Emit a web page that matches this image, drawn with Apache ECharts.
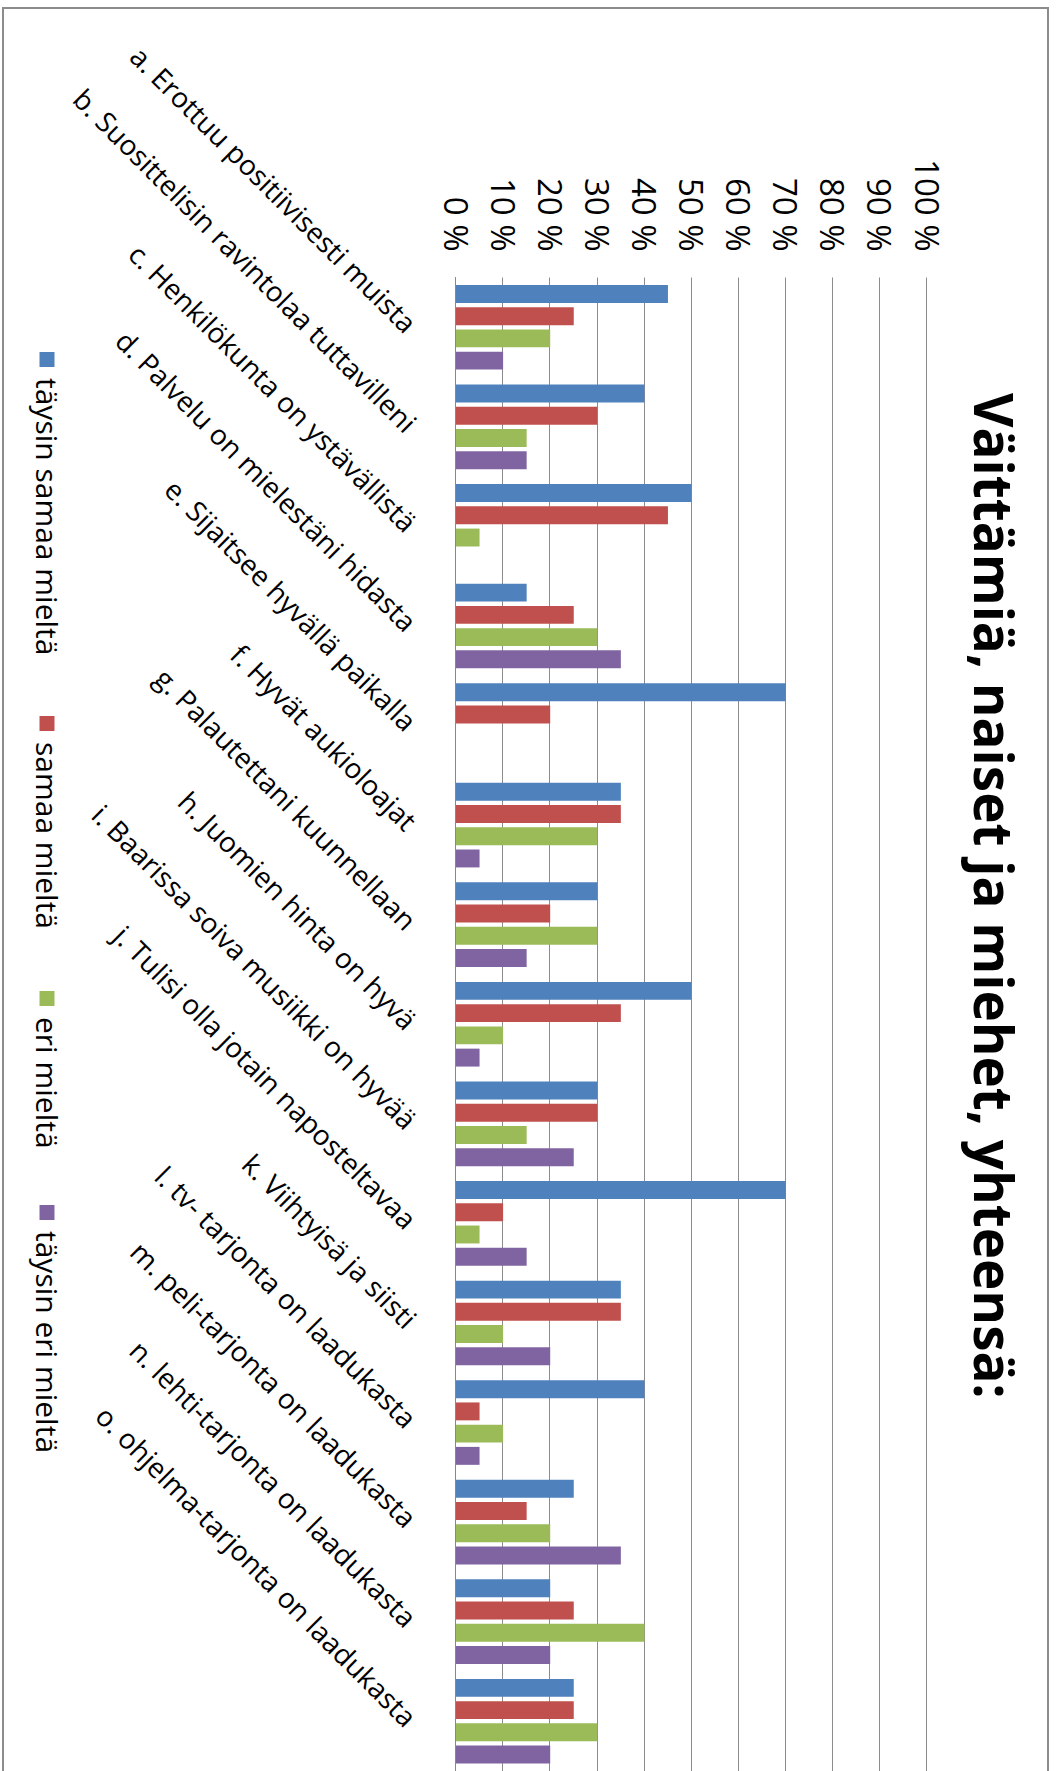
<!DOCTYPE html>
<html>
<head>
<meta charset="utf-8">
<script src="https://cdn.jsdelivr.net/npm/echarts@6/dist/echarts.min.js"></script>
<style>
  html, body { margin: 0; padding: 0; width: 1056px; height: 1771px; overflow: hidden; background: #fff; }
  /* the chart is laid out as a normal column chart, then turned a quarter clockwise */
  #chart { position: absolute; left: 0; top: 0; width: 1771px; height: 1056px;
           transform-origin: 0 0; transform: translateX(1056px) rotate(90deg); }
</style>
</head>
<body>
<div id="chart"></div>
<script>
const categories = [
  'a. Erottuu positiivisesti muista',
  'b. Suosittelisin ravintolaa tuttavilleni',
  'c. Henkilökunta on ystävällistä',
  'd. Palvelu on mielestäni hidasta',
  'e. Sijaitsee hyvällä paikalla',
  'f. Hyvät aukioloajat',
  'g. Palautettani kuunnellaan',
  'h. Juomien hinta on hyvä',
  'i. Baarissa soiva musiikki on hyvää',
  'j. Tulisi olla jotain naposteltavaa',
  'k. Viihtyisä ja siisti',
  'l. tv- tarjonta on laadukasta',
  'm. peli-tarjonta on laadukasta',
  'n. lehti-tarjonta on laadukasta',
  'o. ohjelma-tarjonta on laadukasta'
];
const seriesNames = ['täysin samaa mieltä', 'samaa mieltä', 'eri mieltä', 'täysin eri mieltä'];
const taysinSamaa = [45, 40, 50, 15, 70, 35, 30, 50, 30, 70, 35, 40, 25, 20, 25];
const samaa       = [25, 30, 45, 25, 20, 35, 20, 35, 30, 10, 35,  5, 15, 25, 25];
const eri         = [20, 15,  5, 30,  0, 30, 30, 10, 15,  5, 10, 10, 20, 40, 30];
const taysinEri   = [10, 15,  0, 35,  0,  5, 15,  5, 25, 15, 20,  5, 35, 20, 20];
const valueMax = 100;
const valueStep = 10;

const colors = ['#4F81BD', '#C0504D', '#9BBB59', '#8064A2'];
const font = '"Open Sans", "DejaVu Sans", sans-serif';
const legendLeft = [347, 711, 986, 1200];

const chart = echarts.init(document.getElementById('chart'), null, { renderer: 'svg' });

const option = {
  backgroundColor: '#fff',
  animation: false,
  color: colors,
  title: {
    text: 'Väittämiä, naiset ja miehet, yhteensä:',
    left: 388,
    top: 30,
    textStyle: { fontFamily: font, fontSize: 53, fontWeight: 'bold', color: '#000' }
  },
  legend: seriesNames.map((name, i) => ({
    data: [name],
    left: legendLeft[i],
    top: 989,
    icon: 'rect',
    itemWidth: 15,
    itemHeight: 15,
    selectedMode: false,
    textStyle: { fontFamily: font, fontSize: 30, color: '#000', padding: [0, 0, 0, 6] }
  })),
  grid: { left: 277.5, width: 1500, top: 129, height: 471 },
  xAxis: {
    type: 'category',
    data: categories,
    axisLine: { show: true, lineStyle: { color: '#888', width: 1 } },
    axisTick: { show: false },
    axisLabel: {
      interval: 0,
      rotate: 45,
      margin: 44,
      fontFamily: font,
      fontSize: 28,
      color: '#000'
    }
  },
  yAxis: {
    type: 'value',
    min: 0,
    max: valueMax,
    interval: valueStep,
    axisLine: { show: false },
    axisTick: { show: false },
    axisLabel: { formatter: '{value} %', margin: 26, fontFamily: font, fontSize: 33, color: '#000' },
    splitLine: { show: true, lineStyle: { color: '#8c8c8c', width: 1 } }
  },
  graphic: [{
    type: 'rect',
    silent: true,
    shape: { x: 8, y: 8, width: 1800, height: 1045 },
    style: { fill: 'none', stroke: '#8c8c8c', lineWidth: 2 }
  }],
  series: [taysinSamaa, samaa, eri, taysinEri].map((values, i) => ({
    name: seriesNames[i],
    type: 'bar',
    data: values,
    barGap: '24%',
    barCategoryGap: '15%',
    itemStyle: { color: colors[i] }
  }))
};

chart.setOption(option);
</script>
</body>
</html>
